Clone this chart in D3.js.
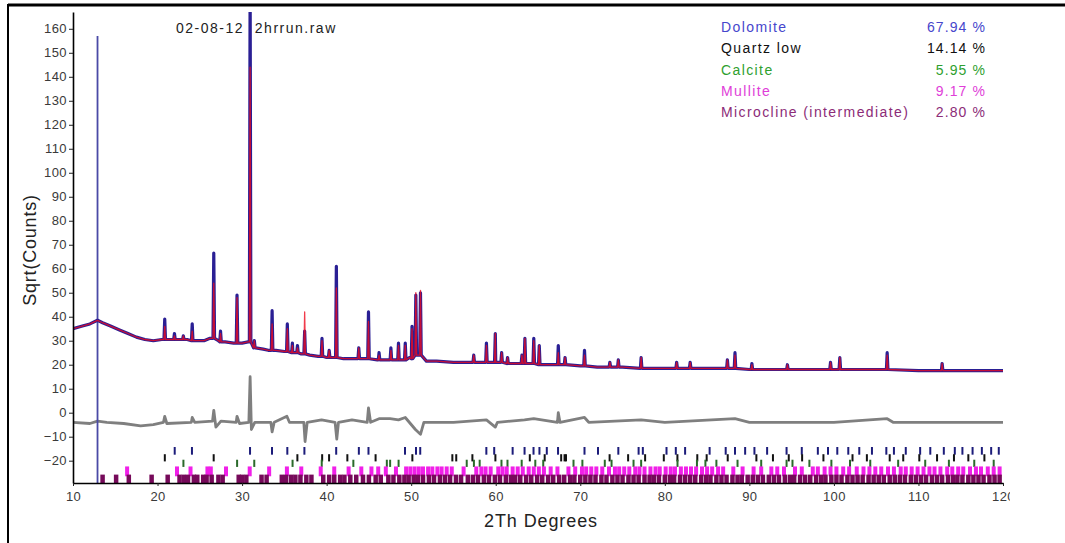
<!DOCTYPE html>
<html>
<head>
<meta charset="utf-8">
<script src="https://cdn.jsdelivr.net/npm/d3@7/dist/d3.min.js"></script>
<style>
  body { margin: 0; background: #fff; }
  svg { display: block; font-family: "Liberation Sans", Arial, sans-serif; }
</style>
</head>
<body>
<div id="chart"></div>
<script>
// Sizes
const width = 1065;
const height = 543;
const plot = { left: 73, right: 1003, top: 12, bottom: 483 };

// ---- data ----
const title = "02-08-12  2hrrun.raw";
const phaseNames = ["Dolomite", "Quartz low", "Calcite", "Mullite", "Microcline (intermediate)"];
const phasePct = ["67.94 %", "14.14 %", "5.95 %", "9.17 %", "2.80 %"];

const yTicks = [-20, -10, 0, 10, 20, 30, 40, 50, 60, 70, 80, 90, 100, 110, 120, 130, 140, 150, 160];
const xTicks = [10, 20, 30, 40, 50, 60, 70, 80, 90, 100, 110, 120];

// background of the scan (2Th, sqrt counts)
const bgTheta = [10, 11, 12, 12.9, 13.5, 14.5, 15.5, 16.5, 17.5, 18.5, 19.5, 20.5, 21.5, 23.5, 24.6, 25.5, 26.2,
  27.2, 28, 29, 30, 30.7, 31.6, 32.5, 33.1, 34, 35, 36, 37, 38, 39, 40, 41, 42, 43, 44, 46, 48, 49.8, 51.8,
  53, 55, 57, 58.5, 60, 62, 64, 66, 68, 70, 72, 75, 78, 80, 85, 90, 95, 100, 105, 110, 115, 120];
const bgCounts = [35, 36, 37, 38.5, 37.5, 36, 34.5, 33, 31.5, 30.5, 30, 30.5, 30.5, 30.5, 30, 30, 31,
  30, 29.5, 29, 29, 29.5, 27, 26.5, 26, 26, 25.5, 25, 24.5, 24, 23.5, 23, 23, 22.5, 22.5, 22.5, 22, 22, 23, 21.5,
  21.5, 21, 21, 21, 21, 20.5, 20.5, 20, 20, 19.5, 19, 19, 18.5, 18.5, 18.5, 18, 18, 18, 18, 17.5, 17.5, 17.5];

// reflections seen in the scan: position, base, observed top, calculated top
const peakTheta = [20.85, 22.0, 23.05, 24.1, 26.65, 27.45, 29.4, 30.95, 31.45, 33.55, 35.35, 35.95, 36.55, 37.4,
  39.45, 40.3, 41.15, 43.8, 44.95, 46.2, 47.6, 48.5, 49.3, 50.1, 50.55, 51.1, 57.4, 58.9, 59.95, 60.7, 61.4,
  63.1, 63.45, 64.5, 65.15, 67.4, 68.2, 70.5, 73.5, 74.5, 77.2, 81.4, 83.0, 87.4, 88.3, 90.3, 94.5, 99.6,
  100.7, 106.3, 112.8];
const peakBase = [30.5, 30.5, 30.5, 30, 31, 29.5, 29, 29.5, 27, 26, 25.5, 25, 25, 24.5,
  23.5, 23, 23, 22.5, 22.5, 22, 22, 22, 22, 22.5, 24, 24, 21, 21, 21, 21, 20.5,
  20.5, 20.5, 20.5, 20, 20, 20, 19.5, 19, 19, 18.5, 18.5, 18.5, 18.5, 18.5, 18, 18, 18,
  18, 18, 17.5];
const peakObs = [39, 33, 32, 37, 66.5, 34, 49, 180, 30, 42.5, 37, 29, 28, 34,
  31, 26, 61, 27, 42, 25, 27, 29, 29, 36, 49, 50, 24, 29, 33, 25, 23,
  24, 31, 31, 28, 28, 23, 26, 21, 22, 23, 21, 21, 22, 25, 20.5, 20, 21,
  23, 25, 20.5];
const peakCalc = [36, 32, 32, 34, 54, 33, 48, 144, 30, 37, 35, 28, 27, 42,
  30, 26, 52, 27, 38, 24, 26, 28, 28, 35, 50, 51, 24, 28, 33, 25, 23,
  24, 31, 30, 28, 25, 23, 24, 21, 22, 23, 21, 21, 22, 24, 20, 20, 21,
  23, 24, 20.5];

// difference curve
const diffTheta = [10, 12, 12.9, 14, 16, 18, 19.5, 20.7, 20.85, 21.1, 24.0, 24.1, 24.4, 26.5, 26.65, 26.9, 27.5,
  29.3, 29.4, 29.7, 30.8, 30.95, 31.1, 31.5, 33.4, 33.55, 33.8, 35.3, 35.6, 37.3, 37.45, 37.7, 39.4, 41.0,
  41.2, 41.4, 43, 44.8, 44.95, 45.2, 46.2, 47.5, 48.5, 49.3, 50.5, 51.1, 51.5, 55, 58.9, 59.95, 60.2, 63.4,
  64.5, 67.3, 67.4, 67.6, 70.5, 71, 77.2, 80, 88.3, 90, 100, 106.3, 107, 120];
const diffVal = [-4, -4.5, -3.5, -4, -4.5, -5.5, -5, -4, -1.5, -4.5, -4, -2, -4, -3.5, 1, -6, -3.5,
  -4, -1.5, -4.5, -4, 15, -7, -4, -4, -8, -4, -1.5, -4, -4, -12, -4, -3, -4,
  -11, -4, -3, -4, 2, -4, -2.5, -2.5, -3, -2, -7, -9, -4, -4, -3, -6, -4, -3,
  -2.5, -4, 0, -4, -2, -4, -3, -4, -2.5, -4, -4, -2.5, -4, -4];

// marker line
const markerTheta = 12.9;
const markerTop = 157;

// reflection markers of each phase
const dolomiteTicks = [22.03, 24.07, 30.94, 33.54, 35.35, 37.37, 41.13, 43.81, 44.95, 49.27, 50.57, 51.07,
  58.89, 59.82, 62.0, 63.41, 64.47, 65.17, 66.04, 67.37, 70.5, 72.1, 74.5, 76.9, 77.4, 80.2, 81.3, 82.4, 85.3,
  87.2, 88.3, 89.5, 90.6, 92.1, 94.4, 96.2, 98.1, 99.3, 100.4, 101.7, 103.0, 104.5, 106.2, 107.1, 108.5,
  110.2, 111.4, 113.0, 114.3, 115.2, 116.4, 117.5, 118.6, 119.5];
const quartzTicks = [20.86, 26.64, 36.54, 39.47, 40.29, 42.45, 45.79, 50.14, 54.87, 55.33, 57.24, 59.96,
  64.03, 65.79, 67.74, 68.14, 68.31, 73.47, 75.66, 77.67, 79.88, 81.49, 83.84, 84.95, 87.44, 90.83, 92.79,
  94.66, 96.24, 98.76, 102.2, 103.9, 106.6, 108.2, 110.1, 112.2, 114.2, 115.9, 117.8];
const calciteTicks = [23.06, 29.41, 31.44, 35.97, 39.42, 43.16, 47.12, 47.51, 48.51, 56.57, 57.42, 58.1,
  60.68, 61.39, 63.07, 64.68, 65.62, 69.2, 70.25, 72.9, 73.7, 76.3, 77.2, 81.5, 83.8, 84.8, 86.1, 88.6,
  91.4, 94.4, 95.1, 97.1, 99.7, 101.9, 104.3, 107.6, 110.8, 113.6, 116.6, 118.9];
const mulliteTicks = [16.4, 22.3, 23.9, 25.9, 26.3, 28.1, 30.9, 33.2, 35.3, 37.0, 39.3, 40.9, 42.6, 44.1,
  45.3, 46.1, 47.0, 48.2, 49.4, 49.9, 50.4, 50.9, 51.4, 52.0, 52.5, 53.1, 53.6, 54.2, 54.8, 56.2, 57.7,
  58.3, 58.8, 59.4, 60.3, 60.8, 61.3, 62.0, 62.6, 63.2, 63.9, 64.5, 65.1, 65.7, 66.5, 67.3, 68.6, 69.4,
  70.2, 70.7, 71.3, 71.9, 72.6, 73.4, 74.1, 74.6, 75.2, 75.8, 76.5, 77.0, 77.6, 78.3, 78.9, 79.4, 80.1,
  80.7, 81.2, 81.9, 82.5, 83.1, 83.7, 84.4, 85.0, 85.6, 86.3, 86.9, 88.1, 89.2, 90.5, 91.4, 92.6, 93.3,
  94.1, 95.4, 96.2, 97.5, 98.1, 98.9, 99.6, 100.3, 101.1, 101.8, 102.7, 103.5, 104.2, 104.9, 105.6, 106.4,
  107.1, 107.9, 108.5, 109.2, 109.9, 110.6, 111.3, 111.9, 112.6, 113.4, 114.0, 114.7, 115.3, 116.1,
  116.8, 117.4, 118.2, 118.9, 119.6];
const microclineTicks = [13.5, 15.1, 16.6, 19.3, 21.2, 22.6, 23.1, 23.6, 24.3, 24.7, 25.4, 25.8, 26.4,
  27.2, 27.7, 29.6, 30.0, 30.5, 32.3, 32.9, 34.7, 35.2, 35.8, 36.3, 36.9, 37.6, 38.2, 39.6, 40.3, 40.9,
  41.6, 42.1, 42.8, 43.5, 44.3, 45.0, 45.8, 46.4, 47.3, 47.9, 48.6, 49.2, 49.7, 50.3, 50.8, 51.4, 52.1,
  52.7, 53.4, 54.0, 54.6, 55.3, 55.9, 56.7, 57.3, 57.9, 58.6, 59.2, 59.9, 60.5, 61.2, 61.8, 62.3, 62.9,
  63.6, 64.2, 64.9, 65.5, 66.2, 66.8, 67.5, 68.1, 68.8, 69.3, 70.0, 70.6, 71.2, 71.8, 72.5, 73.1, 73.8,
  74.4, 75.0, 75.7, 76.3, 76.9, 77.6, 78.2, 78.7, 79.3, 80.0, 80.6, 81.1, 81.8, 82.4, 83.0, 83.6, 84.3,
  84.9, 85.4, 86.1, 86.7, 87.3, 88.0, 88.6, 89.1, 89.8, 90.4, 91.0, 91.6, 92.3, 92.9, 93.5, 94.2, 94.8,
  95.3, 96.0, 96.6, 97.2, 97.9, 98.5, 99.0, 99.7, 100.3, 100.9, 101.6, 102.2, 102.8, 103.4, 104.1, 104.7,
  105.3, 105.9, 106.6, 107.2, 107.8, 108.4, 109.1, 109.7, 110.3, 110.9, 111.6, 112.2, 112.8, 113.5,
  114.1, 114.6, 115.2, 115.9, 116.5, 117.1, 117.7, 118.4, 119.0, 119.6];

// ---- styles ----
const legendColors = ["#4646cc", "#111111", "#2f9f2f", "#e03ed8", "#8c2c78"];
const tickRows = [
  { ticks: dolomiteTicks,   lo: -17.5, hi: -14.3, color: "#1c1c7a", w: 2 },
  { ticks: quartzTicks,     lo: -20.3, hi: -17.3, color: "#111111", w: 2 },
  { ticks: calciteTicks,    lo: -22.6, hi: -19.6, color: "#2a6a2a", w: 2 },
  { ticks: mulliteTicks,    lo: -26.5, hi: -22.4, color: "#f020e8", w: 4 },
  { ticks: microclineTicks, lo: -29.3, hi: -25.8, color: "#760a5a", w: 4.5 }
];

// Scales
const x = d3.scaleLinear().domain([10, 120]).range([plot.left, plot.right]);
const y = d3.scaleLinear().domain([-29.3, 167]).range([plot.bottom, plot.top]);

const svg = d3.select("#chart")
  .append("svg")
  .attr("width", width)
  .attr("height", height);

const defs = svg.append("defs");
defs.append("clipPath").attr("id", "plotClip")
  .append("rect")
  .attr("x", plot.left).attr("y", plot.top)
  .attr("width", 1008 - plot.left).attr("height", plot.bottom - plot.top);
defs.append("clipPath").attr("id", "pageClip")
  .append("rect")
  .attr("x", 0).attr("y", 0).attr("width", 1010).attr("height", height);

// frame
svg.append("line")
  .attr("x1", 8).attr("x2", width).attr("y1", 5).attr("y2", 5)
  .attr("stroke", "#000").attr("stroke-width", 3);
svg.append("line")
  .attr("x1", 8).attr("x2", 8).attr("y1", 4).attr("y2", height)
  .attr("stroke", "#000").attr("stroke-width", 2);

const page = svg.append("g").attr("clip-path", "url(#pageClip)");
const area = page.append("g").attr("clip-path", "url(#plotClip)");

// build profile points
function profile(tops) {
  const pts = bgTheta.map((t, i) => [t, bgCounts[i]]);
  peakTheta.forEach((t, i) => {
    pts.push([t - 0.09, peakBase[i]]);
    pts.push([t, tops[i]]);
    pts.push([t + 0.09, peakBase[i]]);
  });
  return pts.sort((a, b) => a[0] - b[0]);
}

const line = d3.line().x(d => x(d[0])).y(d => y(d[1]));

// phase reflection markers
tickRows.forEach(row => {
  area.append("g")
    .selectAll("line")
    .data(row.ticks)
    .enter()
    .append("line")
    .attr("x1", d => x(d)).attr("x2", d => x(d))
    .attr("y1", y(row.lo)).attr("y2", y(row.hi))
    .attr("stroke", row.color)
    .attr("stroke-width", row.w);
});

// difference curve
area.append("path")
  .datum(diffTheta.map((t, i) => [t, diffVal[i]]))
  .attr("d", line)
  .attr("fill", "none")
  .attr("stroke", "#7f7f7f")
  .attr("stroke-width", 2.8)
  .attr("stroke-linejoin", "round");

// marker line
area.append("line")
  .attr("x1", x(markerTheta)).attr("x2", x(markerTheta))
  .attr("y1", y(markerTop)).attr("y2", y(-29.3))
  .attr("stroke", "#4a4aa6")
  .attr("stroke-width", 1.8);

// observed
area.append("path")
  .datum(profile(peakObs))
  .attr("d", line)
  .attr("fill", "none")
  .attr("stroke", "#2a1f94")
  .attr("stroke-width", 3.2)
  .attr("stroke-linejoin", "round");

// calculated
area.append("path")
  .datum(profile(peakCalc))
  .attr("d", line)
  .attr("fill", "none")
  .attr("stroke", "#ee0a1e")
  .attr("stroke-width", 1.3)
  .attr("stroke-opacity", 0.8)
  .attr("stroke-linejoin", "round");

// Axes
const yAxis = page.append("g")
  .attr("transform", `translate(${plot.left},0)`)
  .call(d3.axisLeft(y).tickValues(yTicks).tickSize(4).tickSizeOuter(0).tickPadding(2));

const xAxis = page.append("g")
  .attr("transform", `translate(0,${plot.bottom})`)
  .call(d3.axisBottom(x).tickValues(xTicks).tickSize(3).tickSizeOuter(0).tickPadding(6));

[yAxis, xAxis].forEach(ax => {
  ax.select(".domain").attr("stroke", "#000").attr("stroke-width", 1.6);
  ax.selectAll(".tick line").attr("stroke", "#222");
  ax.selectAll("text")
    .attr("font-family", "'Liberation Sans', Arial, sans-serif")
    .attr("font-size", 13)
    .attr("letter-spacing", "0.4px")
    .attr("fill", "#3a3a3a");
});

// axis titles
page.append("text")
  .attr("x", 541).attr("y", 527)
  .attr("text-anchor", "middle")
  .attr("font-size", 18)
  .attr("letter-spacing", "0.9px")
  .attr("fill", "#222")
  .text("2Th Degrees");

page.append("text")
  .attr("transform", "translate(36,250) rotate(-90)")
  .attr("text-anchor", "middle")
  .attr("font-size", 18)
  .attr("letter-spacing", "0.8px")
  .attr("fill", "#222")
  .text("Sqrt(Counts)");

// scan name
page.append("text")
  .attr("x", 176).attr("y", 33)
  .attr("font-size", 14)
  .attr("letter-spacing", "1.5px")
  .attr("fill", "#222")
  .style("white-space", "pre")
  .text(title);

// legend
const legend = page.append("g");
phaseNames.forEach((name, i) => {
  legend.append("text")
    .attr("x", 721).attr("y", 32 + i * 21.3)
    .attr("font-size", 14)
    .attr("letter-spacing", "1.4px")
    .attr("fill", legendColors[i])
    .text(name);
  legend.append("text")
    .attr("x", 986).attr("y", 32 + i * 21.3)
    .attr("text-anchor", "end")
    .attr("font-size", 14)
    .attr("letter-spacing", "1.1px")
    .attr("fill", legendColors[i])
    .text(phasePct[i]);
});
</script>
</body>
</html>
